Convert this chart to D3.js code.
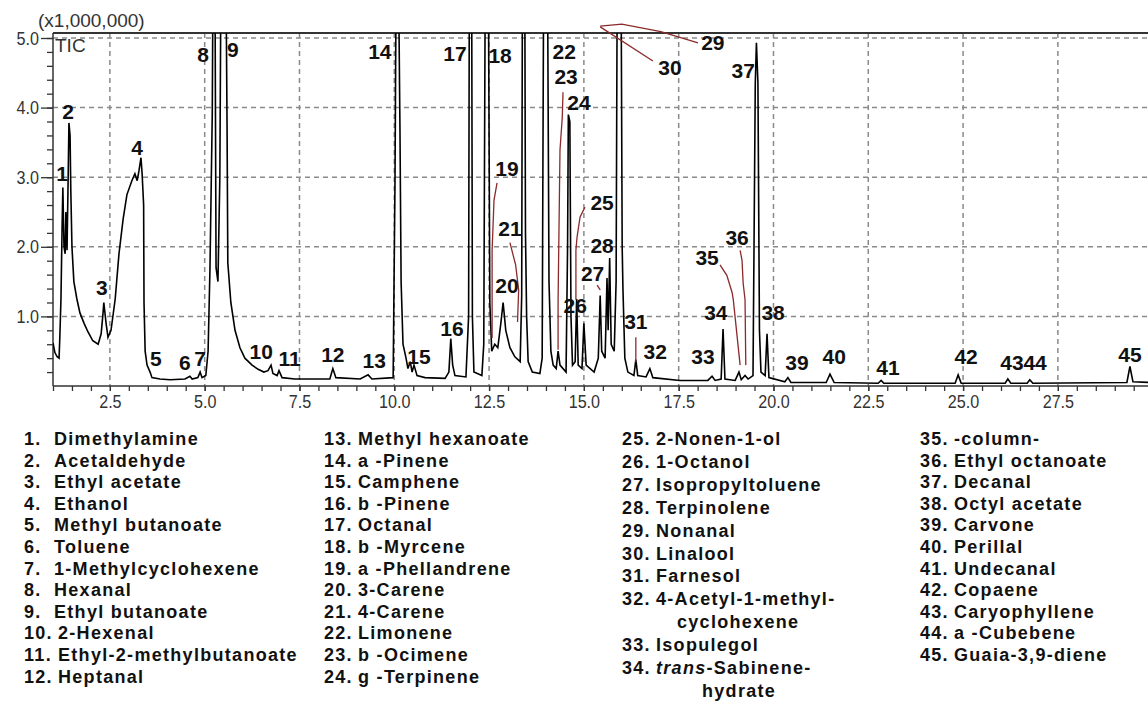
<!DOCTYPE html>
<html>
<head>
<meta charset="utf-8">
<script src="https://cdn.jsdelivr.net/npm/d3@7"></script>
<style>
  body { margin: 0; background: #fff; }
  svg { display: block; }
  .tick-lbl { font-family: "Liberation Sans", Arial, sans-serif; font-size: 19px; fill: #333; }
  .peak-lbl { font-family: "Liberation Sans", Arial, sans-serif; font-size: 21px; font-weight: bold; fill: #111; }
  .leg { font-family: "Liberation Sans", Arial, sans-serif; font-size: 18px; font-weight: bold; fill: #111; letter-spacing: 1.3px; }
</style>
</head>
<body>
<svg id="chart"></svg>
<script>
// TIC trace: [retention time (min), intensity (x1,000,000)]
const ticTrace = [
  [1.00,0.62],[1.05,0.48],[1.11,0.42],[1.16,0.40],[1.18,0.70],[1.21,1.25],[1.24,2.30],[1.26,2.85],[1.29,2.00],[1.32,1.90],
  [1.34,2.50],[1.37,1.95],[1.40,3.00],[1.42,3.78],[1.45,3.60],[1.47,2.80],[1.50,2.00],[1.55,1.50],[1.63,1.25],[1.71,1.05],
  [1.82,0.90],[1.92,0.78],[2.05,0.65],[2.19,0.60],[2.27,0.75],[2.32,1.05],[2.34,1.20],[2.40,0.90],[2.45,0.70],[2.53,0.80],
  [2.64,1.25],[2.74,1.90],[2.85,2.40],[2.95,2.75],[3.08,2.95],[3.16,3.05],[3.22,2.95],[3.27,3.10],[3.32,3.28],[3.35,3.05],
  [3.39,2.60],[3.40,1.20],[3.43,0.50],[3.48,0.30],[3.56,0.20],[3.61,0.12],[3.82,0.10],[4.09,0.09],[4.48,0.10],[4.61,0.14],
  [4.67,0.10],[4.82,0.12],[4.88,0.20],[4.93,0.12],[5.03,0.15],[5.09,0.50],[5.14,1.70],[5.20,3.90],[5.22,6],[5.27,6],
  [5.30,1.70],[5.35,1.50],[5.40,3.00],[5.43,6],[5.56,6],[5.59,3.75],[5.61,1.77],[5.69,1.20],[5.80,0.80],[5.93,0.55],
  [6.06,0.40],[6.25,0.30],[6.41,0.24],[6.56,0.20],[6.67,0.22],[6.75,0.30],[6.80,0.18],[6.91,0.15],[6.96,0.22],[7.04,0.12],
  [7.38,0.10],[7.78,0.10],[8.30,0.10],[8.38,0.25],[8.46,0.12],[9.10,0.10],[9.31,0.16],[9.41,0.10],[9.97,0.12],[10.02,3.00],
  [10.05,6],[10.11,6],[10.15,3.68],[10.18,1.50],[10.23,0.60],[10.31,0.40],[10.36,0.25],[10.42,0.35],[10.47,0.20],[10.52,0.30],
  [10.60,0.15],[10.81,0.12],[11.34,0.11],[11.44,0.20],[11.49,0.68],[11.54,0.30],[11.60,0.15],[11.89,0.13],[11.96,1.00],[11.98,6],
  [12.04,6],[12.06,1.00],[12.10,0.20],[12.31,0.15],[12.36,0.60],[12.40,6],[12.48,6],[12.52,1.20],[12.57,0.50],[12.65,0.60],
  [12.73,0.55],[12.81,0.90],[12.87,1.20],[12.94,0.80],[13.05,0.55],[13.18,0.42],[13.32,0.35],[13.36,1.30],[13.38,6],[13.44,6],
  [13.46,2.20],[13.49,1.00],[13.53,0.35],[13.64,0.20],[13.84,0.18],[13.90,0.40],[13.94,6],[14.04,6],[14.08,1.50],[14.13,0.50],
  [14.19,0.30],[14.27,0.25],[14.32,0.50],[14.37,0.30],[14.53,0.20],[14.57,2.00],[14.59,3.90],[14.63,3.80],[14.66,1.00],[14.70,0.30],
  [14.77,0.35],[14.81,1.25],[14.85,0.30],[14.95,0.25],[15.00,0.90],[15.06,0.30],[15.27,0.20],[15.38,0.40],[15.43,1.30],[15.47,0.50],
  [15.56,0.40],[15.61,1.55],[15.64,0.80],[15.68,1.84],[15.72,0.60],[15.80,0.50],[15.85,1.50],[15.88,6],[15.98,6],[16.01,2.00],
  [16.03,1.40],[16.08,0.40],[16.16,0.20],[16.32,0.15],[16.37,0.38],[16.42,0.15],[16.64,0.13],[16.74,0.25],[16.82,0.12],[17.53,0.08],
  [18.27,0.08],[18.38,0.14],[18.46,0.08],[18.62,0.10],[18.67,0.82],[18.72,0.10],[18.99,0.08],[19.09,0.20],[19.15,0.09],[19.25,0.15],
  [19.33,0.10],[19.46,0.15],[19.52,4.35],[19.55,4.93],[19.59,4.35],[19.63,0.80],[19.67,0.20],[19.78,0.15],[19.83,0.75],[19.88,0.12],
  [20.30,0.06],[20.38,0.12],[20.46,0.05],[21.39,0.05],[21.49,0.17],[21.60,0.05],[22.76,0.04],[22.84,0.08],[22.91,0.04],[24.79,0.04],
  [24.87,0.16],[24.95,0.04],[26.11,0.04],[26.18,0.10],[26.26,0.04],[26.69,0.04],[26.76,0.09],[26.84,0.04],[29.32,0.05],[29.40,0.28],
  [29.48,0.06],[30.00,0.05]
];

// peak number labels: [number, time, intensity]
const peakLabels = [
  [1,1.24,3.06],[2,1.40,3.94],[3,2.29,1.42],[4,3.22,3.43],[5,3.71,0.40],[6,4.48,0.34],[7,4.88,0.40],[8,4.96,4.76],
  [9,5.74,4.83],[10,6.49,0.50],[11,7.24,0.40],[12,8.38,0.45],[13,9.47,0.37],[14,9.62,4.80],[15,10.65,0.42],[16,11.52,0.83],
  [17,11.60,4.78],[18,12.79,4.75],[19,12.97,3.13],[20,12.97,1.45],[21,13.05,2.27],[22,14.48,4.80],[23,14.53,4.45],[24,14.87,4.07],
  [25,15.48,2.63],[26,14.77,1.15],[27,15.23,1.62],[28,15.48,2.02],[29,18.40,4.93],[30,17.27,4.57],[31,16.37,0.92],[32,16.88,0.49],
  [33,18.14,0.42],[34,18.48,1.05],[35,18.25,1.84],[36,19.04,2.14],[37,19.20,4.54],[38,19.99,1.05],[39,20.62,0.34],[40,21.60,0.42],
  [41,23.02,0.27],[42,25.08,0.42],[43,26.29,0.34],[44,26.90,0.34],[45,29.40,0.45]
];

// hand-drawn leader lines (time, intensity)
const leader19 = [[12.71,2.92],[12.63,2.67],[12.58,1.95],[12.58,0.69]];
const leader21 = [[13.05,2.06],[13.20,1.74],[13.28,1.38],[13.25,0.92]];
const leader23 = [[14.45,4.22],[14.43,3.86],[14.37,3.39],[14.32,1.24],[14.32,0.52]];
const leader25 = [[15.03,2.57],[14.90,2.43],[14.82,2.14],[14.79,1.95],[14.79,1.24]];
const leader27 = [[15.35,1.45],[15.43,1.38]];
const leader29 = [[18.01,4.93],[17.03,5.09],[16.00,5.20],[15.43,5.17]];
const leader30 = [[15.43,5.16],[16.82,4.67]];
const leader31 = [[16.37,0.70],[16.37,0.34]];
const leader35 = [[18.59,1.74],[18.77,1.59],[18.91,1.34],[18.94,1.24],[19.12,0.30]];
const leader36 = [[19.12,1.95],[19.17,1.81],[19.20,1.48],[19.25,1.24],[19.27,0.30]];
const leaders = [leader19, leader21, leader23, leader25, leader27, leader29, leader30, leader31, leader35, leader36];

const xTicksMajor = [2.5, 5, 7.5, 10, 12.5, 15, 17.5, 20, 22.5, 25, 27.5];
const yTicksMajor = [1, 2, 3, 4, 5];

const legendCol1 = ['Dimethylamine','Acetaldehyde','Ethyl acetate','Ethanol','Methyl butanoate','Toluene',
  '1-Methylcyclohexene','Hexanal','Ethyl butanoate','2-Hexenal','Ethyl-2-methylbutanoate','Heptanal'];
const legendCol2 = ['Methyl hexanoate','a -Pinene','Camphene','b -Pinene','Octanal','b -Myrcene',
  'a -Phellandrene','3-Carene','4-Carene','Limonene','b -Ocimene','g -Terpinene'];
const legendCol3 = ['2-Nonen-1-ol','1-Octanol','Isopropyltoluene','Terpinolene','Nonanal','Linalool',
  'Farnesol','4-Acetyl-1-methyl-|cyclohexene','Isopulegol','*trans*-Sabinene-|hydrate'];
const legendCol4 = ['-column-','Ethyl octanoate','Decanal','Octyl acetate','Carvone','Perillal',
  'Undecanal','Copaene','Caryophyllene','a -Cubebene','Guaia-3,9-diene'];

const W = 1148, H = 706;
const svg = d3.select('#chart').attr('width', W).attr('height', H);

const plotLeft = 53, plotTop = 33, plotBottom = 386;
const x = d3.scaleLinear().domain([1, 30]).range([plotLeft, plotLeft + 29 * 37.92]);
const y = d3.scaleLinear().domain([0, 5]).range([plotBottom, 38]);

// grid
const grid = svg.append('g').attr('stroke', '#8a8a8a').attr('stroke-width', 1.5).attr('stroke-dasharray', '5,4');
grid.selectAll('line.h').data(yTicksMajor).join('line')
  .attr('x1', plotLeft).attr('x2', W).attr('y1', d => y(d)).attr('y2', d => y(d));
grid.selectAll('line.v').data(xTicksMajor).join('line')
  .attr('x1', d => x(d)).attr('x2', d => x(d)).attr('y1', plotTop).attr('y2', plotBottom);

// frame top
svg.append('line').attr('x1', plotLeft).attr('x2', W).attr('y1', plotTop).attr('y2', plotTop)
  .attr('stroke', '#333').attr('stroke-width', 2);

// axes
const yMinor = d3.range(0.2, 5.01, 0.2);
svg.append('g').attr('transform', `translate(${plotLeft},0)`)
  .call(d3.axisLeft(y).tickValues(yMinor).tickSize(6).tickFormat(''))
  .call(g => g.select('.domain').remove())
  .call(g => g.selectAll('line').attr('stroke', '#333').attr('stroke-width', 1.3));
svg.append('g').attr('transform', `translate(${plotLeft},0)`)
  .call(d3.axisLeft(y).tickValues(yTicksMajor).tickSize(12).tickPadding(2).tickFormat(d3.format('.1f')))
  .call(g => g.select('.domain').remove())
  .call(g => g.selectAll('line').attr('stroke', '#333').attr('stroke-width', 1.3))
  .call(g => g.selectAll('text').attr('class', 'tick-lbl').attr('font-size', null).attr('font-family', null)
    .attr('fill', null).attr('x', -14 / 0.85).attr('transform', 'scale(0.85,1)'));
svg.append('line').attr('x1', plotLeft).attr('x2', plotLeft).attr('y1', plotTop).attr('y2', plotBottom)
  .attr('stroke', '#333').attr('stroke-width', 1.5);

const xMinor = d3.range(1, 30.01, 0.5);
svg.append('g').attr('transform', `translate(0,${plotBottom})`)
  .call(d3.axisBottom(x).tickValues(xMinor).tickSize(5).tickFormat(''))
  .call(g => g.select('.domain').remove())
  .call(g => g.selectAll('line').attr('stroke', '#333').attr('stroke-width', 1.3));
svg.append('g').attr('transform', `translate(0,${plotBottom})`)
  .call(d3.axisBottom(x).tickValues(xTicksMajor).tickSize(5).tickPadding(4).tickFormat(d3.format('.1f')))
  .call(g => g.select('.domain').remove())
  .call(g => g.selectAll('line').attr('stroke', '#333').attr('stroke-width', 1.3))
  .call(g => g.selectAll('text').attr('class', 'tick-lbl').attr('font-size', null).attr('font-family', null)
    .attr('fill', null).attr('transform', 'scale(0.85,1)'));
svg.append('line').attr('x1', plotLeft).attr('x2', W).attr('y1', plotBottom).attr('y2', plotBottom)
  .attr('stroke', '#333').attr('stroke-width', 1.5);

svg.append('text').attr('class', 'tick-lbl').attr('x', 38).attr('y', 27).text('(x1,000,000)');
svg.append('text').attr('class', 'tick-lbl').attr('x', 55).attr('y', 52).attr('font-size', 17).text('TIC');

// trace
svg.append('clipPath').attr('id', 'plotclip').append('rect')
  .attr('x', plotLeft).attr('y', plotTop).attr('width', W - plotLeft).attr('height', plotBottom - plotTop);
const line = d3.line().x(d => x(d[0])).y(d => y(d[1]));
svg.append('path').datum(ticTrace)
  .attr('clip-path', 'url(#plotclip)')
  .attr('d', line).attr('fill', 'none').attr('stroke', '#000').attr('stroke-width', 1.6);

// leaders
svg.append('g').selectAll('path').data(leaders).join('path')
  .attr('d', line).attr('fill', 'none').attr('stroke', '#8b2a2a').attr('stroke-width', 1.3);

// peak labels
svg.append('g').selectAll('text').data(peakLabels).join('text')
  .attr('class', 'peak-lbl')
  .attr('x', d => x(d[1])).attr('y', d => y(d[2]))
  .attr('text-anchor', 'middle').attr('dominant-baseline', 'central')
  .text(d => d[0]);

// legend
const legCols = [
  { names: legendCol1, start: 1, x: 24, row: 21.6 },
  { names: legendCol2, start: 13, x: 324, row: 21.6 },
  { names: legendCol3, start: 25, x: 622, row: 22.9 },
  { names: legendCol4, start: 35, x: 920, row: 21.6 }
];
const legTop = 445;
const leg = svg.append('g');
legCols.forEach(col => {
  let row = 0;
  col.names.forEach((name, i) => {
    const n = col.start + i;
    const parts = name.split('|');
    const yy = legTop + row * col.row;
    leg.append('text').attr('class', 'leg').attr('x', col.x).attr('y', yy).text(n + '.');
    const t = leg.append('text').attr('class', 'leg').attr('x', col.x + (n < 10 ? 30 : 34)).attr('y', yy);
    const m = parts[0].match(/^\*(.+)\*(.*)$/);
    if (m) {
      t.append('tspan').attr('font-style', 'italic').text(m[1]);
      t.append('tspan').text(m[2]);
    } else {
      t.text(parts[0]);
    }
    row++;
    if (parts[1]) {
      leg.append('text').attr('class', 'leg')
        .attr('x', col.x + (parts[1] === 'hydrate' ? 80 : 55))
        .attr('y', legTop + row * col.row).text(parts[1]);
      row++;
    }
  });
});
</script>
</body>
</html>
